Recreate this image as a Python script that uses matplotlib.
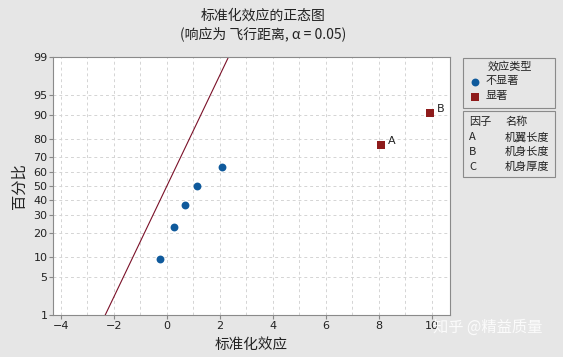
import numpy as np
import matplotlib
matplotlib.use("Agg")
import matplotlib.pyplot as plt
from matplotlib.patches import Rectangle
from statistics import NormalDist

plt.rcParams['font.family'] = ['Noto Sans CJK SC', 'DejaVu Sans']

# standardized effects and their plotting percentages
effects_ns = [-0.26, 0.26, 0.68, 1.13, 2.08]
pct_ns = [9.46, 22.97, 36.49, 50.0, 63.51]
effects_sig = [8.08, 9.92]
pct_sig = [77.03, 90.54]
sig_labels = ['A', 'B']

factor_codes = ['A', 'B', 'C']
factor_names = ['机翼长度', '机身长度', '机身厚度']
type_labels = ['不显著', '显著']

y_ticks = [1, 5, 10, 20, 30, 40, 50, 60, 70, 80, 90, 95, 99]
line_pct = [1, 99]

nd = NormalDist()
_ppf = np.vectorize(lambda p: nd.inv_cdf(min(max(p / 100.0, 1e-6), 1 - 1e-6)), otypes=[float])
_cdf = np.vectorize(lambda z: nd.cdf(z) * 100.0, otypes=[float])


def fwd(p):
    return _ppf(np.asarray(p, dtype=float))


def inv(z):
    return _cdf(np.asarray(z, dtype=float))


bg = '#e6e6e6'
blue = '#0f5a9c'
red = '#8e1b1b'
txt = '#222222'

fig = plt.figure(figsize=(5.63, 3.57), dpi=100, facecolor=bg)
ax = fig.add_axes([0.094, 0.1176, 0.705, 0.7227])
ax.set_facecolor('white')
ax.set_yscale('function', functions=(fwd, inv))

# reference line: effect equals normal score
line_x = [nd.inv_cdf(p / 100.0) for p in line_pct]
ax.plot(line_x, line_pct, color='#7a1028', lw=0.8, zorder=2)

ax.scatter(effects_ns, pct_ns, s=32, color=blue, marker='o', zorder=3, linewidths=0)
ax.scatter(effects_sig, pct_sig, s=30, color=red, marker='s', zorder=3, linewidths=0)
for x, y, t in zip(effects_sig, pct_sig, sig_labels):
    ax.annotate(t, (x, y), xytext=(5, 1), textcoords='offset points',
                fontsize=8, color=txt, family=['DejaVu Sans'])

ax.set_xlim(-4.3, 10.68)
ax.set_ylim(1, 99)
ax.set_xticks(np.arange(-4, 11, 2))
ax.set_xticks(np.arange(-3, 11, 2), minor=True)
ax.set_yticks(y_ticks)
ax.set_yticklabels([str(t) for t in y_ticks])
ax.yaxis.set_minor_locator(matplotlib.ticker.NullLocator())
ax.tick_params(axis='both', which='major', labelsize=8, length=3, color='#888888',
               labelcolor=txt, pad=1)
ax.tick_params(axis='x', which='minor', length=0)
for lab in ax.get_xticklabels() + ax.get_yticklabels():
    lab.set_family('DejaVu Sans')
ax.grid(True, which='both', linestyle=(0, (3, 3)), color='#d4d4d4', lw=0.7, zorder=0)
ax.set_axisbelow(True)
for s in ax.spines.values():
    s.set_color('#8a8a8a')
    s.set_linewidth(0.8)

ax.set_xlabel('标准化效应', fontsize=10.5, color=txt, labelpad=5)
ax.set_ylabel('百分比', fontsize=11, color=txt, labelpad=4)

fig.text(263 / 563, 0.955, '标准化效应的正态图', ha='center', va='center', fontsize=10, color=txt)
fig.text(263 / 563, 0.905, '(响应为 飞行距离, α = 0.05)', ha='center', va='center', fontsize=10, color=txt)

# legend box 1: effect type
x0, x1 = 463 / 563, 555 / 563
fig.patches.append(Rectangle((x0, 1 - 108 / 357), x1 - x0, 50 / 357, transform=fig.transFigure,
                             facecolor=bg, edgecolor='#8a8a8a', lw=0.8, zorder=-1))
fig.text(510 / 563, 1 - 66 / 357, '效应类型', ha='center', va='center', fontsize=8, color=txt)
leg_ax = fig.add_axes([x0, 1 - 108 / 357, x1 - x0, 50 / 357], zorder=3)
leg_ax.set_xlim(463, 555)
leg_ax.set_ylim(108, 58)
leg_ax.axis('off')
leg_ax.scatter([475], [82], s=32, color=blue, marker='o', linewidths=0)
leg_ax.scatter([475], [97], s=30, color=red, marker='s', linewidths=0)
for i, t in enumerate(type_labels):
    fig.text(486 / 563, 1 - (81 + i * 15) / 357, t, va='center', fontsize=8, color=txt)

# legend box 2: factor table
fig.patches.append(Rectangle((x0, 1 - 177 / 357), x1 - x0, 66 / 357, transform=fig.transFigure,
                             facecolor=bg, edgecolor='#8a8a8a', lw=0.8, zorder=-1))
rows = [('因子', '名称')] + list(zip(factor_codes, factor_names))
for i, (c, n) in enumerate(rows):
    yy = 1 - (122 + i * 15) / 357
    fig.text(469 / 563, yy, c, fontsize=8, va='center', color=txt)
    fig.text(505 / 563, yy, n, fontsize=8, va='center', color=txt)

# watermark
fig.text(488 / 563, 1 - 327 / 357, '知乎 @精益质量', ha='center', va='center', fontsize=11,
         color='white', alpha=0.85)

fig.savefig('out.png', dpi=100, facecolor=bg)
